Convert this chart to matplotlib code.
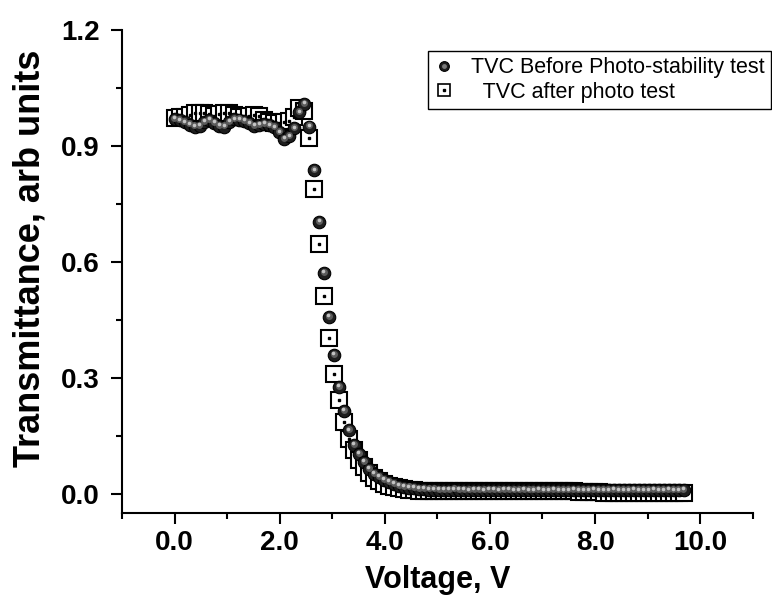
import numpy as np
import matplotlib
matplotlib.use("Agg")
import matplotlib.pyplot as plt
from matplotlib.lines import Line2D
from matplotlib.legend_handler import HandlerTuple
from matplotlib.transforms import offset_copy

plt.rcParams['font.family'] = ['Liberation Sans', 'DejaVu Sans']

# voltage sweep, uniform step
n_pts = 103
volt_step = 0.095
voltage = np.arange(n_pts) * volt_step

# TVC before photo-stability test (spheres)
before = [
    0.970, 0.966, 0.961, 0.955, 0.950, 0.952, 0.962, 0.967, 0.960, 0.952,
    0.950, 0.962, 0.969, 0.968, 0.964, 0.958, 0.951, 0.954, 0.957, 0.953,
    0.948, 0.935, 0.918, 0.925, 0.945, 0.987, 1.008, 0.950, 0.837, 0.704,
    0.571, 0.458, 0.359, 0.277, 0.215, 0.164, 0.127, 0.103, 0.082, 0.065,
    0.052, 0.044, 0.036, 0.030, 0.025, 0.021, 0.018, 0.016, 0.015, 0.013,
    0.012, 0.011, 0.011, 0.010, 0.010, 0.010, 0.011, 0.010, 0.010, 0.009,
    0.010, 0.010, 0.009, 0.010, 0.010, 0.009, 0.010, 0.010, 0.009, 0.009,
    0.010, 0.009, 0.009, 0.010, 0.009, 0.009, 0.010, 0.009, 0.009, 0.009,
    0.010, 0.009, 0.009, 0.009, 0.010, 0.009, 0.009, 0.009, 0.010, 0.009,
    0.009, 0.009, 0.010, 0.009, 0.009, 0.009, 0.010, 0.009, 0.009, 0.010,
    0.009, 0.009, 0.010,
]

# TVC after photo test (open squares)
after = [
    0.972, 0.974, 0.975, 0.980, 0.984, 0.986, 0.986, 0.983, 0.978, 0.982,
    0.986, 0.985, 0.980, 0.975, 0.974, 0.978, 0.980, 0.976, 0.968, 0.962,
    0.960, 0.960, 0.962, 0.965, 0.974, 0.997, 0.990, 0.920, 0.788, 0.646,
    0.512, 0.403, 0.310, 0.243, 0.185, 0.142, 0.112, 0.088, 0.068, 0.053,
    0.042, 0.033, 0.026, 0.021, 0.017, 0.014, 0.012, 0.010, 0.009, 0.008,
    0.008, 0.008, 0.008, 0.008, 0.008, 0.007, 0.007, 0.007, 0.007, 0.007,
    0.007, 0.007, 0.007, 0.007, 0.007, 0.007, 0.006, 0.006, 0.006, 0.006,
    0.006, 0.006, 0.006, 0.006, 0.006, 0.006, 0.006, 0.006, 0.006, 0.006,
    0.006, 0.005, 0.005, 0.005, 0.004, 0.004, 0.003, 0.003, 0.003, 0.003,
    0.003, 0.003, 0.003, 0.003, 0.003, 0.003, 0.003, 0.003, 0.003, 0.003,
    0.003, 0.003, 0.003,
]

x_ticks = [0, 2, 4, 6, 8, 10]
x_ticklabels = ['0.0', '2.0', '4.0', '6.0', '8.0', '10.0']
y_ticks = [0.0, 0.3, 0.6, 0.9, 1.2]
y_ticklabels = ['0.0', '0.3', '0.6', '0.9', '1.2']

fig = plt.figure(figsize=(7.72, 5.98), dpi=100)
ax = fig.add_axes([0.158, 0.142, 0.817, 0.808])

# squares first, spheres drawn over them
ax.plot(voltage, after, 's', ms=12, mfc='white', mec='black', mew=1.5, ls='none', zorder=2)
ax.plot(voltage, after, 's', ms=1.7, color='black', ls='none', zorder=2.5)

ax.plot(voltage, before, 'o', ms=9, mfc='#1e1e1e', mec='black', mew=0.8, ls='none', zorder=3)
mid = offset_copy(ax.transData, fig=fig, x=-0.4, y=0.8, units='points')
hi = offset_copy(ax.transData, fig=fig, x=-0.6, y=1.2, units='points')
ax.plot(voltage, before, 'o', ms=5, mfc='#5c5c5c', mec='none', ls='none', transform=mid, zorder=4)
ax.plot(voltage, before, 'o', ms=2.6, mfc='#c4c4c4', mec='none', ls='none', transform=hi, zorder=5)

ax.set_xlim(-1, 11)
ax.set_ylim(-0.05, 1.2)
ax.set_xticks(x_ticks)
ax.set_xticklabels(x_ticklabels)
ax.set_xticks([-1, 1, 3, 5, 7, 9, 11], minor=True)
ax.set_yticks(y_ticks)
ax.set_yticklabels(y_ticklabels)
ax.set_yticks([0.15, 0.45, 0.75, 1.05], minor=True)

for s in ['top', 'right']:
    ax.spines[s].set_visible(False)
for s in ['left', 'bottom']:
    ax.spines[s].set_linewidth(1.5)

ax.tick_params(which='major', direction='out', length=8, width=1.5, labelsize=20)
ax.tick_params(axis='y', which='major', pad=8)
ax.tick_params(axis='x', which='major', pad=4)
ax.tick_params(which='minor', direction='out', length=4.5, width=1.5)
for lab in ax.get_xticklabels() + ax.get_yticklabels():
    lab.set_fontweight('bold')

ax.set_xlabel('Voltage, V', fontsize=22, fontweight='bold', labelpad=7)
ax.set_ylabel('Transmittance, arb units', fontsize=26, fontweight='bold')
ax.yaxis.set_label_coords(-0.118, 0.528)

h_before = (Line2D([], [], marker='o', ls='none', ms=7, mfc='#1e1e1e', mec='black', mew=0.8),
            Line2D([], [], marker='o', ls='none', ms=3.5, mfc='#7a7a7a', mec='none'))
h_after = (Line2D([], [], marker='s', ls='none', ms=9, mfc='white', mec='black', mew=1.2),
           Line2D([], [], marker='s', ls='none', ms=1.5, color='black'))
leg = fig.legend([h_before, h_after],
                 ['TVC Before Photo-stability test', '  TVC after photo test'],
                 handler_map={tuple: HandlerTuple(ndivide=1, pad=0)},
                 loc='upper right', bbox_to_anchor=(0.999, 0.915),
                 fontsize=15.5, frameon=True, fancybox=False, framealpha=1,
                 edgecolor='black', handlelength=0.9, handletextpad=0.8,
                 borderpad=0.3, labelspacing=0.15, borderaxespad=0)
leg.get_frame().set_linewidth(1.0)

fig.savefig('out.png', dpi=100)
